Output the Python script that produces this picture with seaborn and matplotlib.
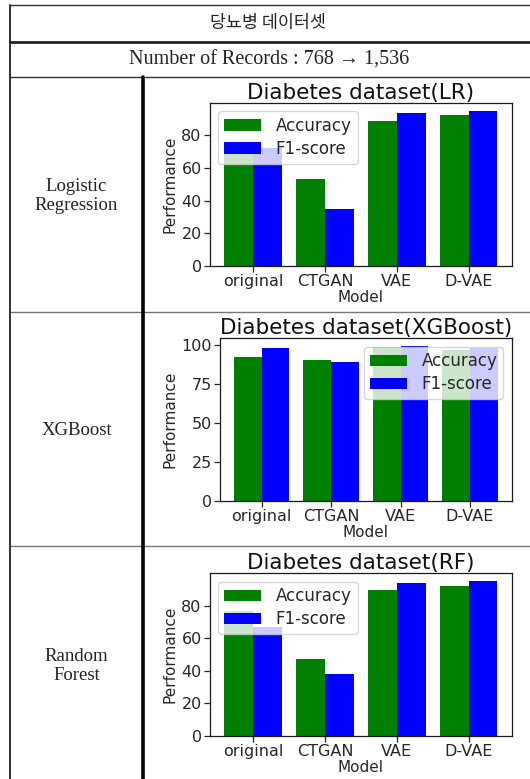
import matplotlib
matplotlib.use("Agg")
import matplotlib.pyplot as plt
import seaborn as sns
import pandas as pd

# ---- data -------------------------------------------------------------
models = ["original", "CTGAN", "VAE", "D-VAE"]
metrics = ["Accuracy", "F1-score"]

lr_accuracy = [72.0, 53.5, 88.8, 92.5]
lr_f1 = [72.0, 35.0, 93.8, 95.0]

xgb_accuracy = [92.5, 90.5, 99.0, 96.8]
xgb_f1 = [98.3, 89.2, 99.6, 98.3]

rf_accuracy = [76.9, 47.3, 89.6, 92.0]
rf_f1 = [67.1, 38.2, 93.9, 95.1]

row_labels = ["Logistic\nRegression", "XGBoost", "Random\nForest"]
chart_titles = ["Diabetes dataset(LR)", "Diabetes dataset(XGBoost)", "Diabetes dataset(RF)"]
header_title = "당뇨병 데이터셋"
header_records = "Number of Records : 768 \u2192 1,536"

# ---- layout (pixels, origin at top-left) ------------------------------
W, H = 530, 779
sns.set_style("ticks", {"axes.edgecolor": "0.1"})
plt.rcParams["font.family"] = ["DejaVu Sans"]

fig = plt.figure(figsize=(W / 100, H / 100), dpi=100)

# background axes carrying the table grid and its text
bg = fig.add_axes([0, 0, 1, 1], zorder=0)
bg.set_xlim(0, W)
bg.set_ylim(H, 0)
bg.axis("off")

line_col = "#333333"
bg.plot([10, W], [5, 5], color=line_col, lw=1.0)
bg.plot([10, W], [41.7, 41.7], color="#222222", lw=2.0)
bg.plot([10, W], [77, 77], color=line_col, lw=1.0)
bg.plot([10, W], [311.5, 311.5], color="#777777", lw=1.0)
bg.plot([10, W], [545.5, 545.5], color="#777777", lw=1.0)
bg.plot([10, 10], [5, H], color="#222222", lw=1.3)
bg.plot([142.7, 142.7], [77, H], color="black", lw=2.6)

serif = ["Liberation Serif", "DejaVu Serif"]
bg.text(268, 23, header_title, ha="center", va="center", fontsize=12.5,
        family=["Noto Sans CJK KR", "DejaVu Sans"], color="#222222")
bg.text(269, 60, header_records, ha="center", va="center", fontsize=14.5,
        family=serif, color="#222222")

row_centers = [196, 430, 666]
for yc, lab in zip(row_centers, row_labels):
    bg.text(76.5, yc, lab, ha="center", va="center", fontsize=13.5,
            family=serif, color="#222222", linespacing=1.2)

# chart boxes: left, right, top, bottom in pixels
boxes = [
    (210, 511.7, 103, 266),
    (220, 511.7, 338.3, 500.7),
    (210, 511.7, 573.3, 735.7),
]
series = [
    (lr_accuracy, lr_f1),
    (xgb_accuracy, xgb_f1),
    (rf_accuracy, rf_f1),
]
legend_locs = ["upper left", "upper right", "upper left"]
palette = {"Accuracy": "green", "F1-score": "blue"}

for (l, r, t, b), (acc, f1), title, loc in zip(boxes, series, chart_titles, legend_locs):
    ax = fig.add_axes([l / W, 1 - b / H, (r - l) / W, (b - t) / H], zorder=2)
    df = pd.DataFrame({
        "Model": models * 2,
        "Performance": list(acc) + list(f1),
        "Metric": [metrics[0]] * len(models) + [metrics[1]] * len(models),
    })
    sns.barplot(data=df, x="Model", y="Performance", hue="Metric",
                order=models, hue_order=metrics, palette=palette,
                saturation=1, errorbar=None, width=0.8, linewidth=0, ax=ax)
    ax.set_xlim(-0.6, len(models) - 0.4)
    ax.set_title(title, fontsize=15.5, pad=2.5, color="#111111")
    ax.set_xlabel("Model", fontsize=11, labelpad=0.5)
    ax.set_ylabel("Performance", fontsize=11, labelpad=3)
    ax.tick_params(axis="both", labelsize=11.5, length=4.5, width=0.9, pad=1.5)
    for s in ax.spines.values():
        s.set_linewidth(0.9)

    old = ax.get_legend()
    handles = old.legend_handles
    labels = [tx.get_text() for tx in old.get_texts()]
    old.remove()
    ax.legend(handles, labels, loc=loc, fontsize=12, frameon=True,
              framealpha=0.8, edgecolor="0.8", fancybox=True,
              handlelength=2.2, handleheight=0.7, handletextpad=0.9,
              labelspacing=0.3, borderpad=0.35, borderaxespad=0.5)

fig.savefig("out.png", dpi=100, facecolor="white")
